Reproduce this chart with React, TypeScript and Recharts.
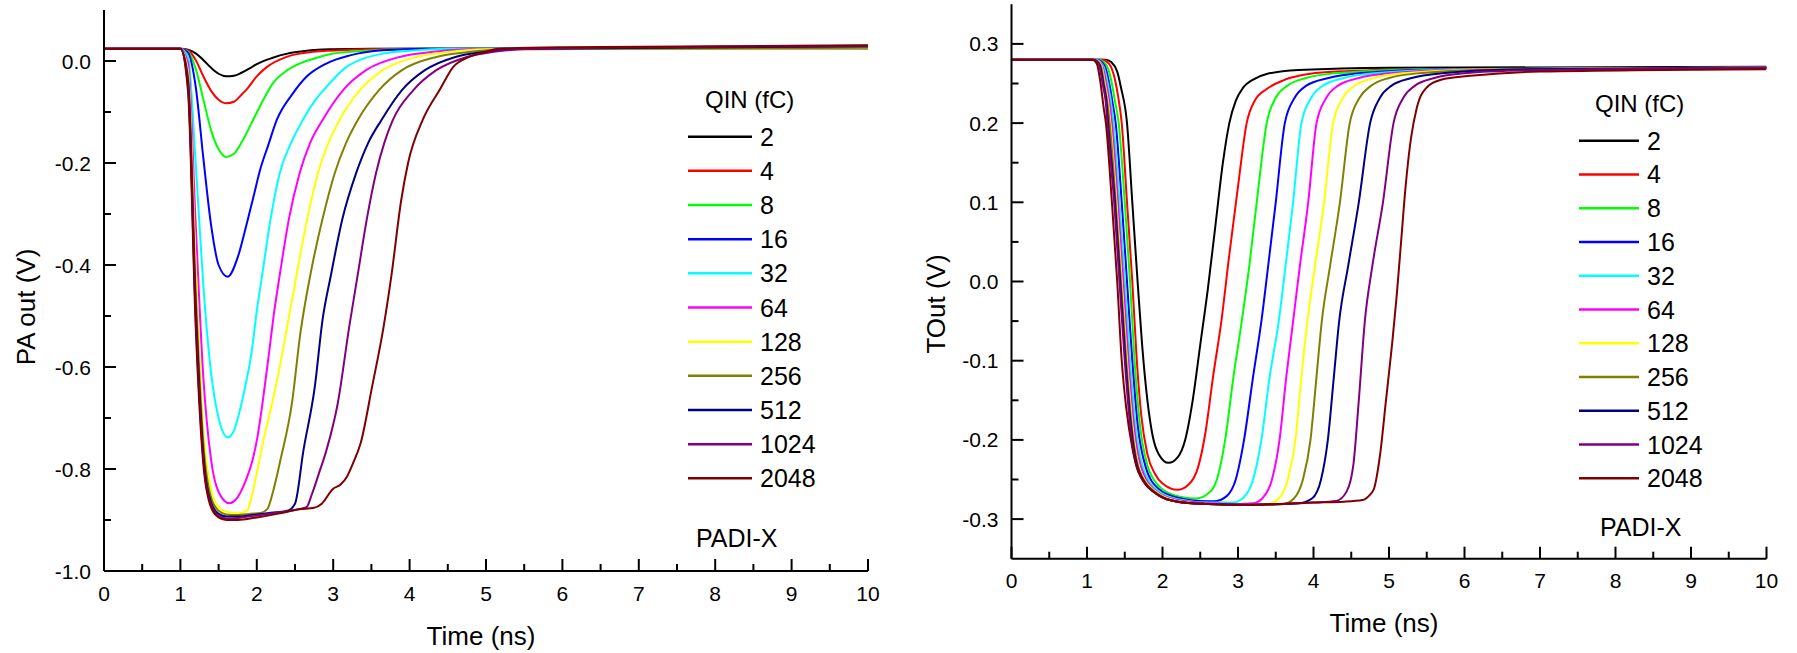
import React from 'react';
import { LineChart, Line, XAxis, YAxis, Legend } from 'recharts';

const FONT = '"Liberation Sans", Arial, Helvetica, sans-serif';

// Series labels (QIN in fC) and colours
const CHARGES = ['2', '4', '8', '16', '32', '64', '128', '256', '512', '1024', '2048'];
const COLORS = ['#000000', '#FF0000', '#00FF00', '#0000FF', '#00FFFF', '#FF00FF', '#FFFF00', '#808000', '#000080', '#800080', '#800000'];

// Axis ticks
const TIME_TICKS = [0, 0.5, 1, 1.5, 2, 2.5, 3, 3.5, 4, 4.5, 5, 5.5, 6, 6.5, 7, 7.5, 8, 8.5, 9, 9.5, 10];
const PA_Y_TICKS = [-1.0, -0.9, -0.8, -0.7, -0.6, -0.5, -0.4, -0.3, -0.2, -0.1, 0.0];
const TOUT_Y_TICKS = [-0.3, -0.25, -0.2, -0.15, -0.1, -0.05, 0.0, 0.05, 0.1, 0.15, 0.2, 0.25, 0.3];

// Left panel: PA out (V) vs time (ns), [t, v]
const PA_2 = [[0, .024], [1.0, .024], [1.1, .022], [1.2, .015], [1.3, .002], [1.4, -.013], [1.5, -.025], [1.6, -.030], [1.7, -.029], [1.8, -.023], [1.9, -.015], [2.0, -.006], [2.2, .006], [2.4, .0145], [2.6, .019], [2.8, .022], [3.0, .023], [3.5, .024], [10, .025]];
const PA_4 = [[0, .024], [1.0, .024], [1.1, .021], [1.2, .002], [1.3, -.03], [1.4, -.058], [1.5, -.076], [1.6, -.083], [1.7, -.080], [1.8, -.066], [1.86, -.057], [2.0, -.03], [2.13, -.012], [2.39, .008], [2.74, .018], [3.22, .022], [4, .024], [10, .025]];
const PA_8 = [[0, .024], [1.0, .024], [1.1, .018], [1.2, -.015], [1.3, -.075], [1.4, -.135], [1.5, -.173], [1.6, -.188], [1.7, -.182], [1.8, -.16], [1.95, -.116], [2.1, -.072], [2.21, -.044], [2.4, -.018], [2.56, -.005], [2.8, .007], [3.0, .0145], [3.3, .019], [3.65, .022], [4.2, .024], [10, .025]];
const PA_16 = [[0, .024], [1.0, .024], [1.1, .016], [1.2, -.05], [1.3, -.19], [1.4, -.32], [1.5, -.40], [1.62, -.423], [1.75, -.385], [1.85, -.33], [1.95, -.27], [2.05, -.21], [2.15, -.165], [2.26, -.116], [2.47, -.064], [2.65, -.031], [2.91, -.005], [3.22, .011], [3.65, .021], [4.2, .024], [10, .025]];
const PA_32 = [[0, .024], [1.0, .024], [1.1, .008], [1.2, -.2], [1.3, -.44], [1.4, -.61], [1.5, -.7], [1.62, -.738], [1.7, -.725], [1.78, -.684], [1.86, -.63], [1.93, -.573], [2.0, -.49], [2.08, -.41], [2.18, -.31], [2.3, -.22], [2.45, -.16], [2.6, -.116], [2.75, -.08], [2.91, -.051], [3.17, -.012], [3.4, .005], [3.65, .0145], [4.0, .02], [4.5, .024], [10, .025]];
const PA_64 = [[0, .024], [1.0, .024], [1.1, -.005], [1.2, -.32], [1.3, -.62], [1.4, -.78], [1.5, -.845], [1.64, -.867], [1.75, -.855], [1.86, -.821], [1.94, -.785], [2.01, -.736], [2.08, -.665], [2.16, -.573], [2.22, -.5], [2.3, -.42], [2.42, -.31], [2.56, -.22], [2.7, -.16], [2.86, -.116], [3.13, -.057], [3.43, -.018], [3.87, .008], [4.31, .018], [4.8, .023], [10, .025]];
const PA_128 = [[0, .024], [1.0, .024], [1.1, -.02], [1.2, -.4], [1.3, -.72], [1.4, -.84], [1.5, -.875], [1.6, -.884], [1.75, -.887], [1.87, -.882], [1.94, -.85], [2.01, -.8], [2.1, -.735], [2.2, -.671], [2.3, -.6], [2.39, -.527], [2.52, -.42], [2.66, -.31], [2.8, -.22], [2.94, -.16], [3.08, -.116], [3.35, -.057], [3.65, -.018], [4.09, .008], [4.53, .018], [5.0, .023], [10, .025]];
const PA_256 = [[0, .024], [1.0, .024], [1.1, -.03], [1.2, -.45], [1.3, -.75], [1.4, -.855], [1.5, -.882], [1.6, -.889], [1.75, -.89], [1.9, -.888], [2.05, -.886], [2.14, -.878], [2.22, -.84], [2.31, -.782], [2.46, -.671], [2.57, -.534], [2.7, -.42], [2.86, -.31], [3.02, -.22], [3.17, -.16], [3.32, -.116], [3.6, -.057], [3.9, -.018], [4.35, .008], [4.8, .018], [5.3, .023], [10, .026]];
const PA_512 = [[0, .024], [1.0, .024], [1.1, -.04], [1.2, -.48], [1.3, -.77], [1.4, -.865], [1.5, -.888], [1.6, -.893], [1.75, -.893], [2.0, -.889], [2.25, -.885], [2.4, -.882], [2.5, -.868], [2.61, -.764], [2.76, -.638], [2.86, -.508], [2.97, -.42], [3.12, -.31], [3.3, -.22], [3.46, -.16], [3.63, -.116], [3.9, -.057], [4.2, -.018], [4.6, .008], [5.0, .018], [5.5, .024], [10, .029]];
const PA_1024 = [[0, .024], [1.0, .024], [1.1, -.05], [1.2, -.5], [1.3, -.78], [1.4, -.87], [1.5, -.892], [1.6, -.897], [1.75, -.896], [2.0, -.891], [2.3, -.885], [2.55, -.879], [2.65, -.875], [2.72, -.85], [2.81, -.81], [2.91, -.764], [3.06, -.671], [3.21, -.521], [3.32, -.42], [3.44, -.31], [3.56, -.22], [3.67, -.16], [3.78, -.116], [4.05, -.057], [4.35, -.018], [4.75, .008], [5.1, .018], [5.6, .024], [7, .027], [10, .03]];
const PA_2048 = [[0, .024], [1.0, .024], [1.1, -.06], [1.2, -.52], [1.3, -.79], [1.4, -.875], [1.5, -.895], [1.6, -.9], [1.75, -.9], [2.0, -.895], [2.3, -.887], [2.55, -.879], [2.75, -.876], [2.85, -.868], [2.99, -.84], [3.1, -.83], [3.18, -.815], [3.27, -.785], [3.36, -.749], [3.51, -.638], [3.66, -.521], [3.76, -.423], [3.89, -.273], [3.98, -.2], [4.17, -.116], [4.4, -.055], [4.57, -.012], [4.75, .006], [4.95, .016], [5.17, .024], [6, .027], [8, .029], [10, .031]];

// Right panel: TOut (V) vs time (ns), [t, v]
const TO_2 = [[0, .28], [1.25, .28], [1.32, .277], [1.4, .265], [1.45, .245], [1.53, .2], [1.6, .1], [1.67, 0], [1.73, -.08], [1.8, -.15], [1.87, -.195], [1.95, -.218], [2.08, -.229], [2.2, -.222], [2.3, -.2], [2.4, -.15], [2.5, -.08], [2.6, -.01], [2.7, .07], [2.8, .15], [2.885, .2], [2.97, .228], [3.07, .245], [3.2, .255], [3.38, .262], [3.8, .267], [5, .27], [10, .271]];
const TO_4 = [[0, .28], [1.2, .28], [1.29, .275], [1.37, .255], [1.41, .235], [1.46, .2], [1.53, .1], [1.6, 0], [1.66, -.1], [1.72, -.17], [1.8, -.218], [1.9, -.243], [2.0, -.255], [2.2, -.263], [2.35, -.256], [2.47, -.235], [2.57, -.19], [2.67, -.12], [2.78, -.05], [2.88, .03], [3.0, .12], [3.115, .2], [3.22, .228], [3.38, .243], [3.6, .254], [3.82, .26], [4.3, .265], [5.5, .268], [10, .27]];
const TO_8 = [[0, .28], [1.15, .28], [1.25, .274], [1.33, .25], [1.37, .228], [1.42, .2], [1.5, .1], [1.57, 0], [1.63, -.1], [1.7, -.18], [1.8, -.232], [1.95, -.258], [2.1, -.268], [2.3, -.273], [2.44, -.274], [2.6, -.268], [2.72, -.25], [2.83, -.2], [2.94, -.12], [3.05, -.05], [3.15, .02], [3.26, .11], [3.38, .2], [3.5, .232], [3.65, .247], [3.9, .257], [4.3, .263], [5.5, .268], [10, .27]];
const TO_16 = [[0, .28], [1.13, .28], [1.23, .273], [1.3, .248], [1.34, .225], [1.38, .2], [1.46, .1], [1.53, 0], [1.6, -.1], [1.67, -.18], [1.78, -.235], [1.95, -.262], [2.2, -.273], [2.5, -.277], [2.69, -.2775], [2.85, -.271], [2.97, -.25], [3.08, -.2], [3.2, -.12], [3.31, -.05], [3.4, .02], [3.5, .1], [3.62, .2], [3.75, .232], [3.9, .247], [4.2, .257], [4.6, .263], [5.8, .268], [10, .27]];
const TO_32 = [[0, .28], [1.12, .28], [1.21, .273], [1.28, .248], [1.32, .225], [1.35, .2], [1.43, .1], [1.5, 0], [1.57, -.1], [1.64, -.18], [1.75, -.237], [1.95, -.265], [2.2, -.275], [2.6, -.279], [2.93, -.279], [3.08, -.272], [3.2, -.25], [3.31, -.2], [3.42, -.12], [3.54, -.05], [3.63, .02], [3.73, .1], [3.84, .2], [3.97, .232], [4.12, .247], [4.4, .257], [4.8, .263], [6, .268], [10, .27]];
const TO_64 = [[0, .28], [1.11, .28], [1.2, .273], [1.26, .248], [1.3, .225], [1.33, .2], [1.41, .1], [1.48, 0], [1.55, -.1], [1.62, -.18], [1.73, -.238], [1.95, -.267], [2.2, -.276], [2.6, -.28], [3.0, -.281], [3.2, -.28], [3.33, -.273], [3.45, -.25], [3.55, -.2], [3.64, -.12], [3.73, -.05], [3.82, .02], [3.93, .1], [4.04, .2], [4.17, .232], [4.32, .247], [4.6, .257], [5.0, .263], [6.2, .268], [10, .27]];
const TO_128 = [[0, .28], [1.1, .28], [1.19, .273], [1.24, .248], [1.28, .225], [1.31, .2], [1.39, .1], [1.46, 0], [1.53, -.1], [1.6, -.18], [1.71, -.24], [1.95, -.268], [2.2, -.277], [2.6, -.281], [3.0, -.282], [3.4, -.281], [3.54, -.274], [3.66, -.25], [3.76, -.2], [3.84, -.12], [3.92, -.05], [4.02, .02], [4.14, .1], [4.26, .2], [4.39, .232], [4.54, .247], [4.8, .257], [5.2, .263], [6.4, .268], [10, .27]];
const TO_256 = [[0, .28], [1.09, .28], [1.18, .273], [1.23, .248], [1.27, .225], [1.3, .2], [1.38, .1], [1.45, 0], [1.52, -.1], [1.59, -.18], [1.7, -.24], [1.95, -.269], [2.2, -.278], [2.6, -.281], [3.0, -.282], [3.6, -.281], [3.74, -.274], [3.86, -.25], [3.96, -.2], [4.04, -.12], [4.11, -.05], [4.22, .02], [4.35, .1], [4.48, .2], [4.61, .232], [4.76, .247], [5.0, .257], [5.4, .263], [6.6, .268], [10, .27]];
const TO_512 = [[0, .28], [1.09, .28], [1.17, .273], [1.22, .248], [1.26, .225], [1.28, .2], [1.37, .1], [1.44, 0], [1.51, -.1], [1.58, -.18], [1.69, -.24], [1.95, -.27], [2.2, -.278], [2.6, -.281], [3.0, -.282], [3.8, -.28], [3.98, -.274], [4.1, -.25], [4.19, -.2], [4.27, -.12], [4.34, -.05], [4.46, .02], [4.6, .1], [4.75, .2], [4.88, .232], [5.03, .247], [5.3, .257], [5.7, .263], [6.8, .268], [10, .27]];
const TO_1024 = [[0, .28], [1.08, .28], [1.16, .273], [1.21, .248], [1.25, .225], [1.27, .2], [1.36, .1], [1.43, 0], [1.5, -.1], [1.57, -.18], [1.68, -.24], [1.95, -.27], [2.2, -.278], [2.6, -.281], [3.0, -.282], [4.0, -.279], [4.3, -.277], [4.44, -.265], [4.53, -.23], [4.6, -.15], [4.68, -.05], [4.78, .02], [4.92, .1], [5.06, .2], [5.19, .232], [5.34, .247], [5.6, .257], [6.0, .263], [7, .267], [10, .27]];
const TO_2048 = [[0, .28], [1.07, .28], [1.13, .275], [1.18, .25], [1.22, .22], [1.25, .2], [1.33, .1], [1.4, 0], [1.46, -.1], [1.52, -.16], [1.6, -.21], [1.68, -.24], [1.95, -.27], [2.2, -.278], [2.6, -.281], [3.0, -.282], [3.5, -.281], [4.0, -.279], [4.4, -.278], [4.65, -.276], [4.74, -.27], [4.8, -.262], [4.88, -.22], [4.96, -.15], [5.04, -.08], [5.1, -.02], [5.16, .05], [5.22, .12], [5.29, .18], [5.37, .22], [5.5, .245], [5.7, .255], [6.12, .26], [7, .265], [10, .268]];

const PA_SERIES = [PA_2, PA_4, PA_8, PA_16, PA_32, PA_64, PA_128, PA_256, PA_512, PA_1024, PA_2048];
const TO_SERIES = [TO_2, TO_4, TO_8, TO_16, TO_32, TO_64, TO_128, TO_256, TO_512, TO_1024, TO_2048];

const toPts = (arr: number[][]) => arr.map(([t, v]) => ({ t, v }));

const TICK_FONT = 21;
const TITLE_FONT = 26;
const LEGEND_FONT = 25;
const LEGEND_TITLE_FONT = 24;
const MAJOR = 12;
const MINOR = 7;

type PanelCfg = {
  width: number;
  height: number;
  margin: { top: number; right: number; bottom: number; left: number };
  yDomain: [number, number];
  yTicks: number[];
  isMajorY: (v: number) => boolean;
  yTitle: string;
  yTitleDx: number;
  yTitleDy: number;
  xTitleDy: number;
  series: number[][][];
  legendLeft: number;
  legendTop: number;
  legendStep: number;
  legendLineEnd: number;
  legendTitleX: number;
  padiX: number;
  padiY: number;
};

function Panel({ cfg }: { cfg: PanelCfg }) {
  const isMajorX = (v: number) => Number.isInteger(v);

  const bottomTick = (p: any) => {
    const { x, y, payload } = p;
    const major = isMajorX(payload.value);
    return (
      <g>
        <line x1={x} x2={x} y1={y} y2={y - (major ? MAJOR : MINOR)} stroke="#000" strokeWidth={2} />
        {major && (
          <text x={x} y={y + 22} textAnchor="middle" dominantBaseline="central" fontSize={TICK_FONT} fontFamily={FONT} fill="#000">
            {String(payload.value)}
          </text>
        )}
      </g>
    );
  };
  const topTick = (p: any) => {
    const { x, y, payload } = p;
    const major = isMajorX(payload.value);
    return <line x1={x} x2={x} y1={y} y2={y + (major ? MAJOR : MINOR)} stroke="#000" strokeWidth={2} />;
  };
  const leftTick = (p: any) => {
    const { x, y, payload } = p;
    const major = cfg.isMajorY(payload.value);
    return (
      <g>
        <line x1={x} x2={x + (major ? MAJOR : MINOR)} y1={y} y2={y} stroke="#000" strokeWidth={2} />
        {major && (
          <text x={x - 13} y={y} textAnchor="end" dominantBaseline="central" fontSize={TICK_FONT} fontFamily={FONT} fill="#000">
            {Number(payload.value).toFixed(1)}
          </text>
        )}
      </g>
    );
  };
  const rightTick = (p: any) => {
    const { x, y, payload } = p;
    const major = cfg.isMajorY(payload.value);
    return <line x1={x} x2={x - (major ? MAJOR : MINOR)} y1={y} y2={y} stroke="#000" strokeWidth={2} />;
  };

  const xTitle = (p: any) => {
    const vb = p.viewBox || {};
    return (
      <text x={vb.x + vb.width / 2 - 5} y={vb.y + cfg.xTitleDy} textAnchor="middle" dominantBaseline="central" fontSize={TITLE_FONT} fontFamily={FONT} fill="#000">
        Time (ns)
      </text>
    );
  };
  const yTitle = (p: any) => {
    const vb = p.viewBox || {};
    const cx = vb.x + vb.width - cfg.yTitleDx;
    const cy = vb.y + vb.height / 2 + cfg.yTitleDy;
    return (
      <text transform={`translate(${cx},${cy}) rotate(-90)`} textAnchor="middle" dominantBaseline="central" fontSize={TITLE_FONT} fontFamily={FONT} fill="#000">
        {cfg.yTitle}
      </text>
    );
  };

  const legendContent = () => (
    <svg width={240} height={480} style={{ overflow: 'visible', display: 'block' }}>
      <text x={cfg.legendTitleX} y={29} dominantBaseline="central" fontSize={LEGEND_TITLE_FONT} fontFamily={FONT} fill="#000">
        QIN (fC)
      </text>
      {CHARGES.map((c, i) => {
        const yy = 66.7 + i * cfg.legendStep;
        return (
          <g key={c}>
            <line x1={8} x2={cfg.legendLineEnd} y1={yy} y2={yy} stroke={COLORS[i]} strokeWidth={2.5} />
            <text x={cfg.legendLineEnd + 8} y={yy} dominantBaseline="central" fontSize={LEGEND_FONT} fontFamily={FONT} fill="#000">
              {c}
            </text>
          </g>
        );
      })}
      <text x={cfg.padiX} y={cfg.padiY} textAnchor="start" dominantBaseline="central" fontSize={LEGEND_FONT} fontFamily={FONT} fill="#000">
        PADI-X
      </text>
    </svg>
  );

  const axisLine = { stroke: '#000', strokeWidth: 2 };

  return (
    <LineChart width={cfg.width} height={cfg.height} margin={cfg.margin}>
      <XAxis
        xAxisId="b"
        dataKey="t"
        type="number"
        domain={[0, 10]}
        ticks={TIME_TICKS}
        interval={0}
        allowDataOverflow
        height={60}
        tickSize={0}
        tickMargin={0}
        tickLine={false}
        axisLine={axisLine}
        tick={bottomTick}
        label={xTitle}
      />
      <XAxis
        xAxisId="top"
        orientation="top"
        type="number"
        domain={[0, 10]}
        ticks={TIME_TICKS}
        interval={0}
        allowDataOverflow
        height={0}
        tickSize={0}
        tickMargin={0}
        tickLine={false}
        axisLine={axisLine}
        tick={topTick}
      />
      <YAxis
        yAxisId="l"
        type="number"
        domain={cfg.yDomain}
        ticks={cfg.yTicks}
        interval={0}
        allowDataOverflow
        width={80}
        tickSize={0}
        tickMargin={0}
        tickLine={false}
        axisLine={axisLine}
        tick={leftTick}
        label={yTitle}
      />
      <YAxis
        yAxisId="r"
        orientation="right"
        type="number"
        domain={cfg.yDomain}
        ticks={cfg.yTicks}
        interval={0}
        allowDataOverflow
        width={0}
        tickSize={0}
        tickMargin={0}
        tickLine={false}
        axisLine={axisLine}
        tick={rightTick}
      />
      {cfg.series.map((s, i) => (
        <Line
          key={CHARGES[i]}
          name={CHARGES[i]}
          data={toPts(s)}
          dataKey="v"
          xAxisId="b"
          yAxisId="l"
          type="monotone"
          stroke={COLORS[i]}
          strokeWidth={2}
          dot={false}
          activeDot={false}
          isAnimationActive={false}
        />
      ))}
      <Legend
        layout="vertical"
        align="center"
        verticalAlign="middle"
        wrapperStyle={{ position: 'absolute', left: cfg.legendLeft, top: cfg.legendTop, width: 240, height: 480 }}
        content={legendContent}
      />
    </LineChart>
  );
}

const LEFT: PanelCfg = {
  width: 900,
  height: 653,
  margin: { top: 10, right: 32, bottom: 22, left: 24 },
  yDomain: [-1.0, 0.1],
  yTicks: PA_Y_TICKS,
  isMajorY: (v: number) => Math.abs(Math.round(v * 10)) % 2 === 0,
  yTitle: 'PA out (V)',
  yTitleDx: 78,
  yTitleDy: 16.5,
  xTitleDy: 65,
  series: PA_SERIES,
  legendLeft: 680,
  legendTop: 70,
  legendStep: 34.16,
  legendLineEnd: 72,
  legendTitleX: 25,
  padiX: 16,
  padiY: 468,
};

const RIGHT: PanelCfg = {
  width: 897,
  height: 653,
  margin: { top: 4.3, right: 30.5, bottom: 34.3, left: 31.5 },
  yDomain: [-0.35, 0.35],
  yTicks: TOUT_Y_TICKS,
  isMajorY: (v: number) => Math.abs(Math.round(v * 100)) % 10 === 0,
  yTitle: 'TOut (V)',
  yTitleDx: 76,
  yTitleDy: 22.5,
  xTitleDy: 64.5,
  series: TO_SERIES,
  legendLeft: 671,
  legendTop: 74,
  legendStep: 33.76,
  legendLineEnd: 68,
  legendTitleX: 24,
  padiX: 29,
  padiY: 452.7,
};

export default function App() {
  return (
    <div style={{ position: 'absolute', left: 0, top: 0, width: 1797, height: 653, background: '#ffffff', fontFamily: FONT }}>
      <div style={{ position: 'absolute', left: 0, top: 0 }}>
        <Panel cfg={LEFT} />
      </div>
      <div style={{ position: 'absolute', left: 900, top: 0 }}>
        <Panel cfg={RIGHT} />
      </div>
    </div>
  );
}
